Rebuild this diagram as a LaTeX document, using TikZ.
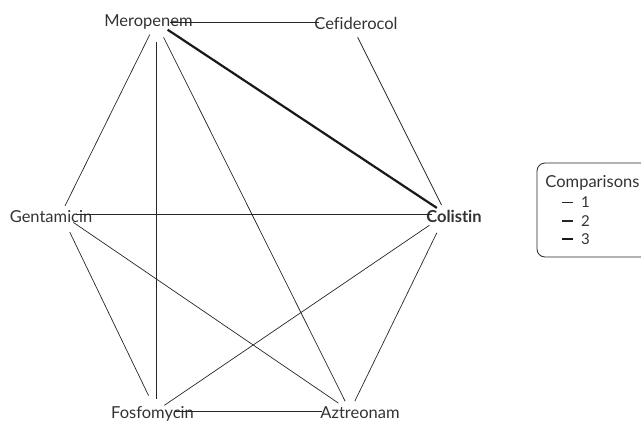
\documentclass[tikz,border=0pt]{standalone}
\usepackage{fontspec}
\setmainfont[Ligatures=NoCommon]{Lato}
\begin{document}
\begin{tikzpicture}[x=1pt,y=-1pt,
  lab/.style={font=\fontsize{16.5}{19}\selectfont, text=black!80, inner sep=0pt, anchor=base},
  leg/.style={font=\fontsize{15}{18}\selectfont, text=black!80, inner sep=0pt, anchor=base west},
  e1/.style={line width=0.7pt, draw=black!85},
  e2/.style={line width=1.1pt, draw=black!85},
  e3/.style={line width=2.2pt, draw=black!90},
]
\clip (0,0) rectangle (641,421);
\useasboundingbox (0,0) rectangle (641,421);
% vertices
\coordinate (M) at (156,22);
\coordinate (Cf) at (350,22);
\coordinate (Co) at (446,214);
\coordinate (A) at (350,411);
\coordinate (F) at (156,411);
\coordinate (G) at (61,214);
% labels
\node[lab] (lM) at (148.5,26) {Meropenem};
\node[lab] (lCf) at (356,29.5) {Cefiderocol};
\node[lab,font=\fontsize{16.5}{19}\selectfont\bfseries] (lCo) at (454,222.5) {Colistin};
\node[lab] (lG) at (51,222.5) {Gentamicin};
\node[lab] (lF) at (152.5,418) {Fosfomycin};
\node[lab] (lA) at (360,418) {Aztreonam};
% edges
\draw[e1, shorten <=14pt, shorten >=31pt] (M) -- (Cf);
\draw[e3, shorten <=14pt, shorten >=11pt] (M) -- (Co);
\draw[e1, shorten <=14pt, shorten >=9pt] (M) -- (G);
\draw[e1, shorten <=20pt, shorten >=12pt] (M) -- (F);
\draw[e1, shorten <=17pt, shorten >=11pt] (M) -- (A);
\draw[e1, shorten <=17pt, shorten >=10pt] (Cf) -- (Co);
\draw[e1, shorten <=15pt, shorten >=14pt] (G) -- (Co);
\draw[e1, shorten <=15pt, shorten >=14pt] (G) -- (A);
\draw[e1, shorten <=20pt, shorten >=17pt] (G) -- (F);
\draw[e1, shorten <=20pt, shorten >=10pt] (Co) -- (F);
\draw[e1, shorten <=21pt, shorten >=11pt] (Co) -- (A);
\draw[e1, shorten <=19pt, shorten >=28pt] (F) -- (A);
% legend
\draw[line width=0.8pt, draw=black!85, rounded corners=8pt] (537,163) rectangle (690,257);
\node[lab] (ltitle) at (592.5,187) {Comparisons};
\coordinate (a1) at (562,202.5); \coordinate (b1) at (573,202.5);
\coordinate (a2) at (562,221); \coordinate (b2) at (573,221);
\coordinate (a3) at (562,239); \coordinate (b3) at (573,239);
\draw[e1] (a1) -- (b1);
\draw[e2] (a2) -- (b2);
\draw[e3] (a3) -- (b3);
\node[leg] (n1) at (581,207.5) {1};
\node[leg] (n2) at (581,226) {2};
\node[leg] (n3) at (581,244) {3};
\end{tikzpicture}
\end{document}
